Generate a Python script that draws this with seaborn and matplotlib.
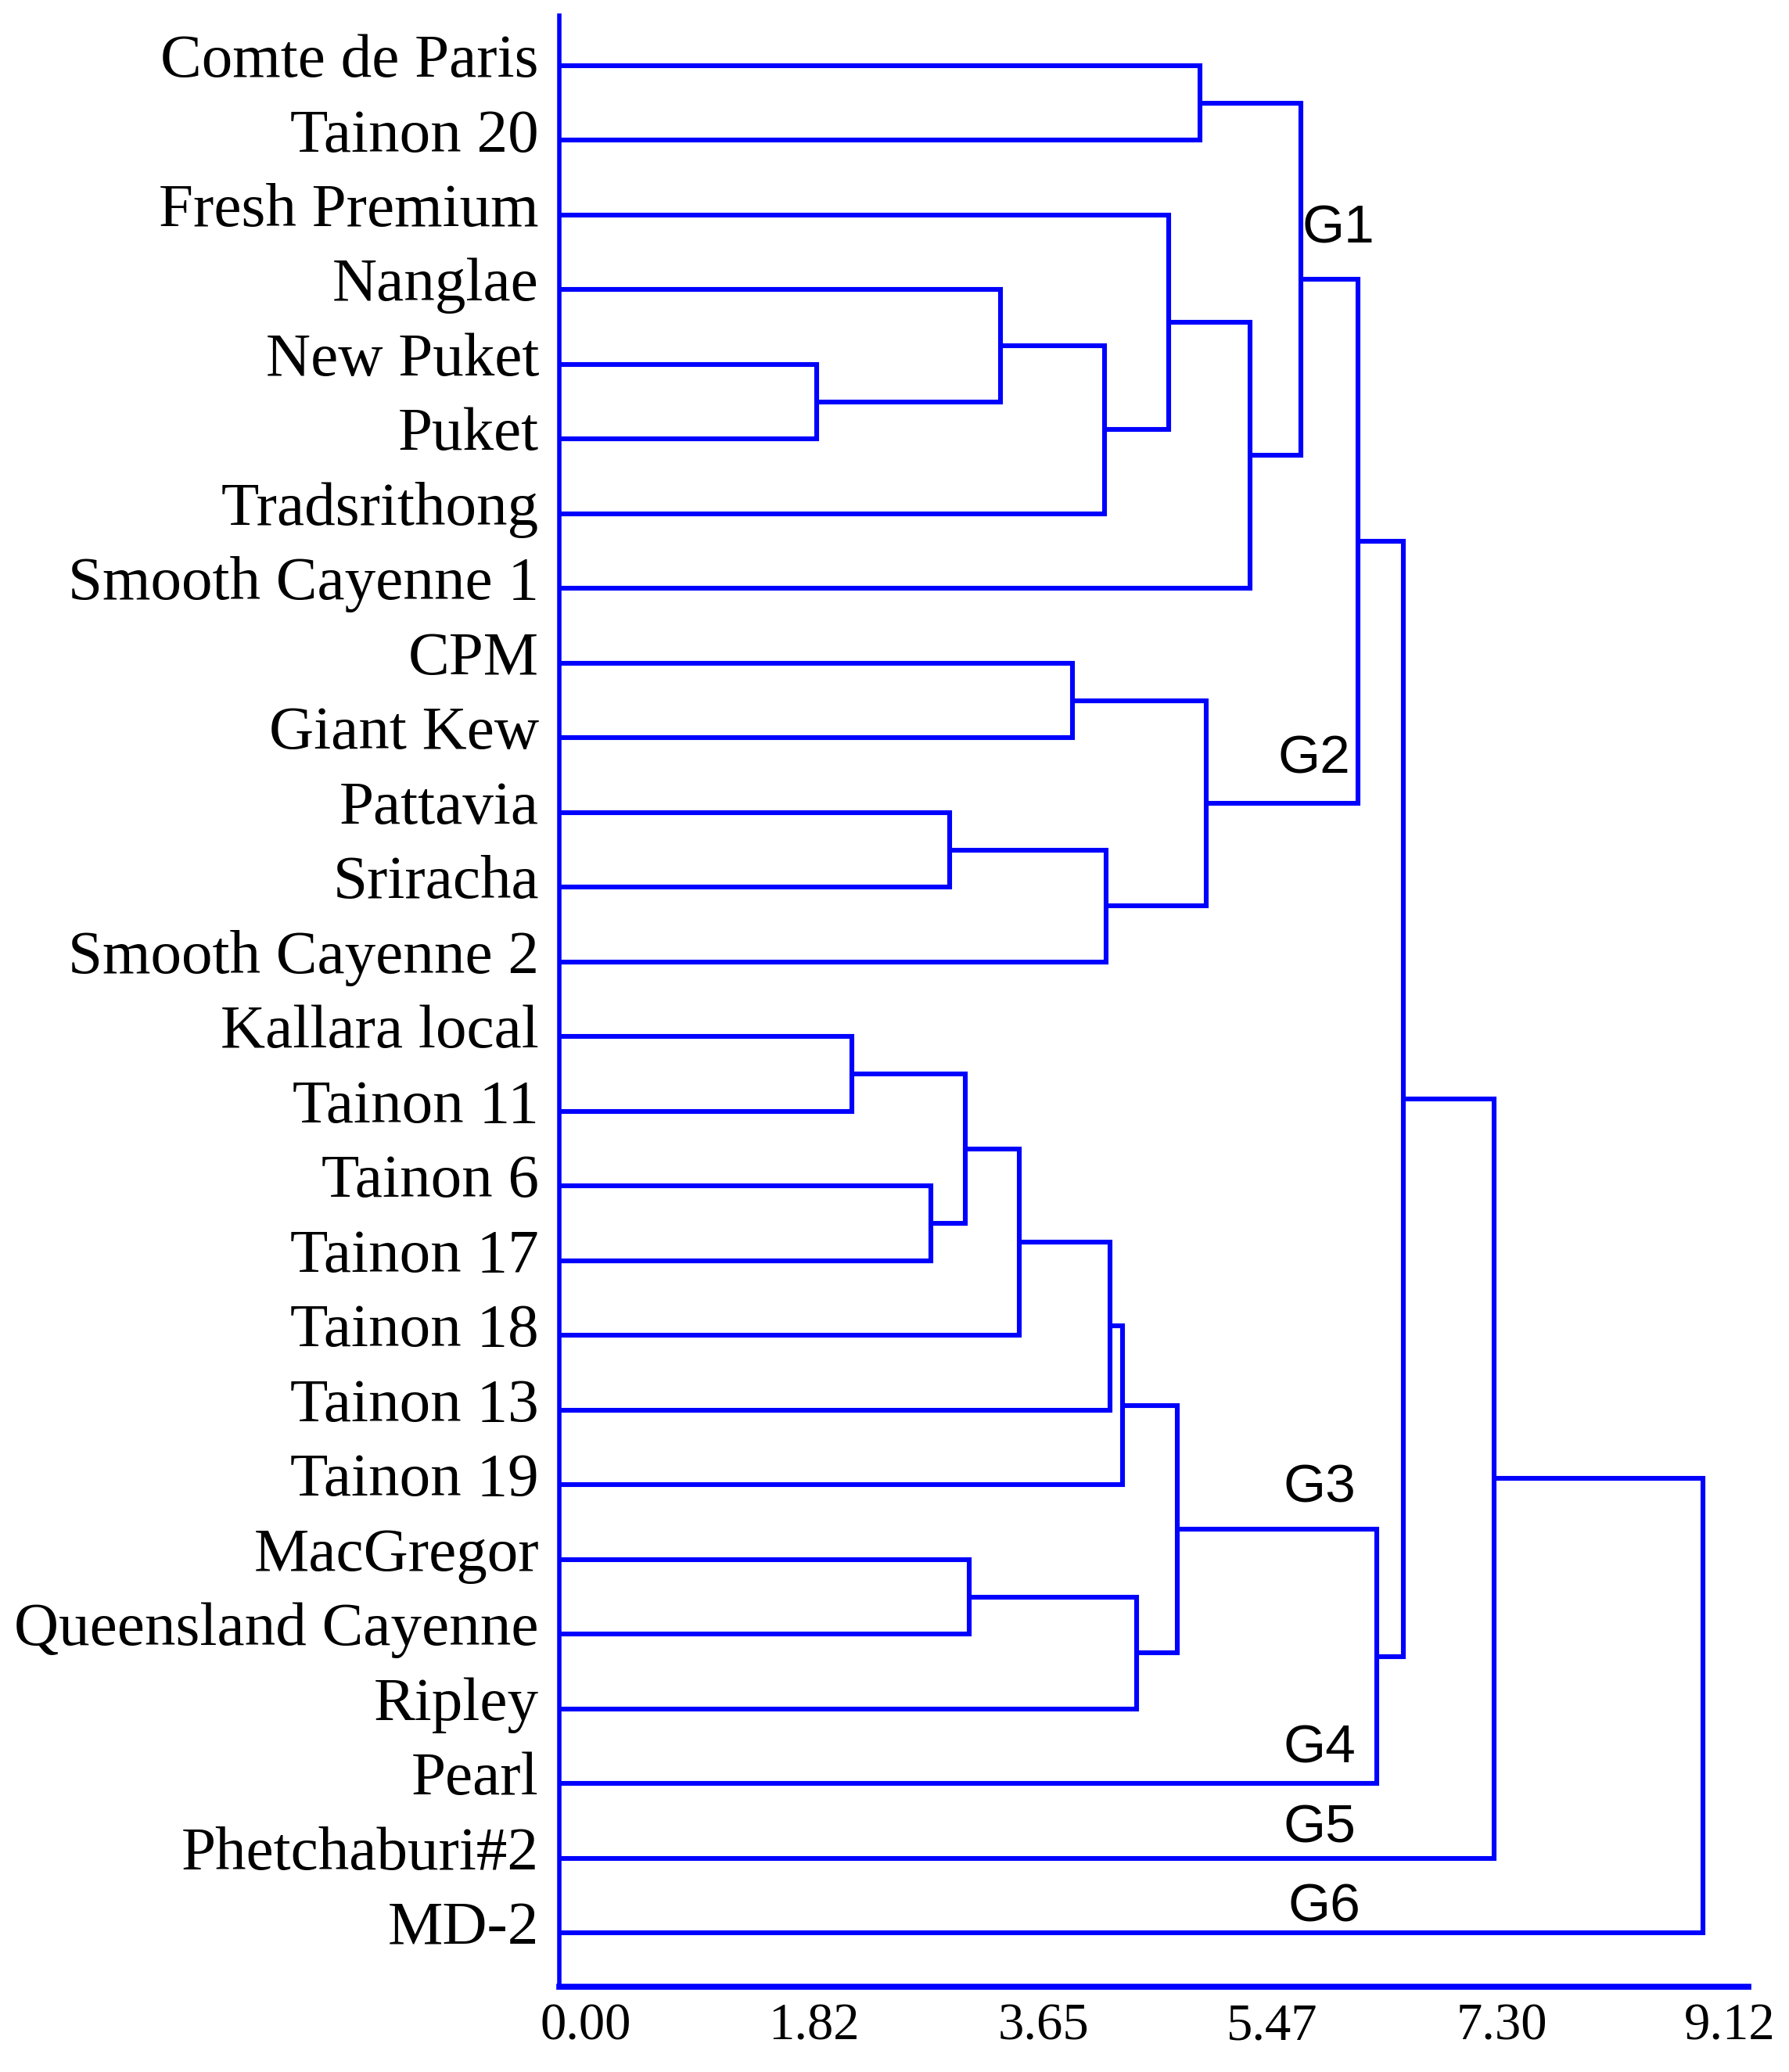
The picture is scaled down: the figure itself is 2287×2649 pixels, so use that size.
import matplotlib
matplotlib.use("Agg")
import matplotlib.pyplot as plt
import matplotlib.transforms as mtransforms
import pandas as pd
import seaborn as sns

# leaves, top to bottom
leaves = ["Comte de Paris", "Tainon 20", "Fresh Premium", "Nanglae", "New Puket",
          "Puket", "Tradsrithong", "Smooth Cayenne 1", "CPM", "Giant Kew",
          "Pattavia", "Sriracha", "Smooth Cayenne 2", "Kallara local", "Tainon 11",
          "Tainon 6", "Tainon 17", "Tainon 18", "Tainon 13", "Tainon 19",
          "MacGregor", "Queensland Cayenne", "Ripley", "Pearl", "Phetchaburi#2", "MD-2"]

# merges: ids < 26 are leaves, 26+ are the earlier merges (in order)
merge_left = [0, 4, 3, 28, 2, 30, 26, 8, 10, 34, 33, 32,
              13, 15, 38, 40, 41, 42, 20, 44, 43, 46, 37, 48, 49]
merge_right = [1, 5, 27, 6, 29, 7, 31, 9, 11, 12, 35, 36,
               14, 16, 39, 17, 18, 19, 21, 22, 45, 23, 47, 24, 25]
merge_dist = [5.11, 2.05, 3.52, 4.35, 4.86, 5.51, 5.91, 4.09, 3.11, 4.36, 5.16, 6.37,
              2.33, 2.96, 3.24, 3.67, 4.39, 4.49, 3.27, 4.60, 4.93, 6.52, 6.73, 7.45, 9.12]

tick_vals = [0.00, 1.82, 3.65, 5.47, 7.30, 9.12]
tick_labels = ["0.00", "1.82", "3.65", "5.47", "7.30", "9.12"]

groups = ["G1", "G2", "G3", "G4", "G5", "G6"]
group_x = [5.92, 5.73, 5.77, 5.77, 5.77, 5.81]
group_y = [2.37, 9.47, 19.23, 22.72, 23.79, 24.85]

BLUE = "#0000ff"

sns.set_style("white")
plt.rcParams['font.family'] = ['Liberation Serif', 'DejaVu Serif']

# build the dendrogram paths
n = len(leaves)
pos_x = {i: 0.0 for i in range(n)}
pos_y = {i: float(i) for i in range(n)}
rows = []
for k, (a, b, d) in enumerate(zip(merge_left, merge_right, merge_dist)):
    path = [(pos_x[a], pos_y[a]), (d, pos_y[a]), (d, pos_y[b]), (pos_x[b], pos_y[b])]
    for px, py in path:
        rows.append({"seg": k, "x": px, "y": py})
    pos_x[n + k] = d
    pos_y[n + k] = (pos_y[a] + pos_y[b]) / 2
df = pd.DataFrame(rows)

fig = plt.figure(figsize=(22.87, 26.49), dpi=100)
ax = fig.add_axes([0.3126, 0.04115, 0.9773 - 0.3126, 0.99245 - 0.04115])

sns.lineplot(data=df, x="x", y="y", units="seg", estimator=None, sort=False,
             color=BLUE, lw=4.4, ax=ax, legend=False,
             solid_joinstyle="miter", solid_capstyle="butt")

ax.set_xlim(0, 9.48)
ax.set_ylim(25.72, -0.67)
ax.set_xlabel("")
ax.set_ylabel("")
ax.set_yticks([])
for s in ["top", "right"]:
    ax.spines[s].set_visible(False)
ax.spines["left"].set_color(BLUE)
ax.spines["left"].set_linewidth(4.0)
ax.spines["bottom"].set_color(BLUE)
ax.spines["bottom"].set_linewidth(5.5)

ax.set_xticks(tick_vals, tick_labels)
ax.tick_params(axis="x", direction="in", length=13.7, width=2.4, color=BLUE,
               pad=15, labelsize=48, labelcolor="black")
shift = mtransforms.ScaledTranslation(0.34, 0, fig.dpi_scale_trans)
for lab in ax.get_xticklabels():
    lab.set_transform(lab.get_transform() + shift)

lab_tr = mtransforms.offset_copy(ax.transData, fig=fig, x=-26, y=-14, units="dots")
for i, name in enumerate(leaves):
    ax.text(0, i, name, transform=lab_tr, ha="right", va="baseline",
            fontsize=57, color="black", clip_on=False)

for g, gx, gy in zip(groups, group_x, group_y):
    ax.text(gx, gy, g, ha="left", va="baseline", fontsize=50, color="black",
            family=["Liberation Sans", "DejaVu Sans"])

fig.savefig("out.png", dpi=100, facecolor="white")
